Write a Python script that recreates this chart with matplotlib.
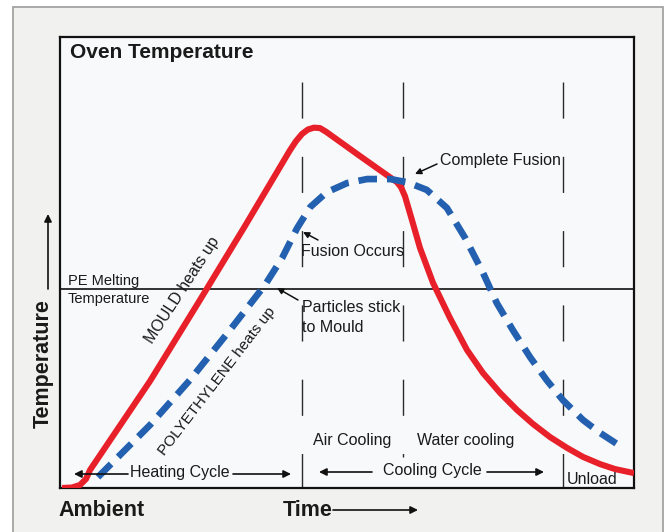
"""
Rotational moulding cycle: oven temperature vs time
"""

import matplotlib.pyplot as plt
from matplotlib.patches import Rectangle, FancyArrowPatch

# ---------- Data (time and temperature, 0-100 scale) ----------

mould_time = [0.35, 2.09, 3.48, 4.53, 5.23, 15.68, 24.39, 32.23, 40.07,
              41.11, 42.16, 43.21, 44.25, 45.30, 46.34, 52.26, 58.71, 59.41,
              60.10, 61.32, 62.72, 64.98, 67.94, 70.91, 73.69, 76.66, 79.62,
              82.40, 85.37, 88.33, 91.11, 94.08, 96.69, 100.0]
mould_temp = [0.0, 0.11, 0.67, 2.0, 3.99, 23.7, 41.7, 58.1, 74.9,
              76.9, 78.5, 79.5, 79.9, 79.8, 79.0, 73.6, 67.8, 66.7,
              64.7, 59.4, 53.2, 45.5, 37.7, 30.6, 25.5, 21.1, 17.3,
              14.2, 11.3, 8.9, 6.9, 5.3, 4.2, 3.3]

pe_time = [6.6, 15.7, 22.6, 29.6, 35.7, 38.7, 41.3, 43.6, 46.5, 50.0, 53.5,
           57.5, 60.5, 63.9, 67.4, 70.6, 73.7, 76.1, 78.9, 81.9, 84.8, 87.6,
           91.1, 94.1, 97.6]
pe_temp = [2.4, 14.0, 23.9, 35.0, 45.0, 51.0, 57.6, 62.3, 65.6, 67.6, 68.5,
           68.5, 67.8, 66.1, 62.1, 55.4, 47.7, 41.0, 35.0, 29.0, 23.9, 19.5,
           15.1, 12.2, 9.3]

melt_temp = 44.1                     # PE melting temperature
phase_times = [42.2, 59.8, 87.6]     # end of heating / air cooling / cooling
phase_bottoms = [0.0, 6.9, 0.0]
phase_top = 90.0

W, H = 669, 532
FONT = ['Liberation Sans', 'DejaVu Sans']


def fx(x):
    return x / W


def fy(y):
    return 1 - y / H


def label(x, y, s, size=11.5, weight='normal', ha='left', va='center', rot=0):
    fig.text(fx(x), fy(y), s, fontsize=size, fontweight=weight, ha=ha,
             va=va, rotation=rot, rotation_mode='anchor', family=FONT,
             color='#1a1a1a', zorder=5)


def arrow(x0, y0, x1, y1, lw=1.2, scale=11):
    fig.add_artist(FancyArrowPatch(
        (fx(x0), fy(y0)), (fx(x1), fy(y1)), transform=fig.transFigure,
        arrowstyle='-|>', color='#111111', lw=lw, mutation_scale=scale,
        shrinkA=0, shrinkB=0, zorder=5))


# ---------- Figure and frame ----------
fig = plt.figure(figsize=(W / 100, H / 100), dpi=100)
fig.patch.set_facecolor('white')
fig.patches.append(Rectangle((fx(13), -0.05), fx(663) - fx(13), fy(7) + 0.05,
                             transform=fig.transFigure, facecolor='#f1f1ef',
                             edgecolor='#9c9c9c', lw=1.2, zorder=-5))

ax = fig.add_axes([fx(60), fy(488), fx(634) - fx(60), fy(37) - fy(488)])
ax.set_facecolor('#f8f9fa')
ax.set_xlim(0, 100)
ax.set_ylim(0, 100)
ax.set_xticks([])
ax.set_yticks([])
for sp in ax.spines.values():
    sp.set_linewidth(1.6)
    sp.set_color('#111111')

# Phase boundaries and melting line
for t, b in zip(phase_times, phase_bottoms):
    ax.plot([t, t], [phase_top, b], color='#2a2a2a', lw=1.0,
            dashes=(26, 27.5), zorder=1)
ax.axhline(melt_temp, color='#111111', lw=1.2, zorder=1)

# Curves
ax.plot(mould_time, mould_temp, color='#e8202a', lw=4.4,
        solid_joinstyle='round', solid_capstyle='butt', zorder=3)
ax.plot(pe_time, pe_temp, color='#2361b0', lw=4.8, dashes=(2.8, 1.5),
        dash_capstyle='butt', zorder=4)

# ---------- Text ----------
label(70, 53, 'Oven Temperature', size=15, weight='bold')
label(58, 511, 'Ambient', size=15.5, weight='bold')
label(283, 510, 'Time', size=15.5, weight='bold')
arrow(333, 510, 418, 510)
label(43, 428, 'Temperature', size=15.5, weight='bold', rot=90)
arrow(48, 289, 48, 214)

label(68, 281, 'PE Melting', size=10.5)
label(68, 299, 'Temperature', size=10.5)

label(149, 342, 'MOULD heats up', size=11.5, rot=57)
label(161, 454, 'POLYETHYLENE heats up', size=11, rot=52.5)

label(301, 252, 'Fusion Occurs')
arrow(318, 240, 303, 232, lw=1.1, scale=9)
label(440, 160, 'Complete Fusion')
arrow(437, 164, 415, 174, lw=1.1, scale=9)
label(302, 307, 'Particles stick')
label(302, 327, 'to Mould')
arrow(298, 300, 277, 288, lw=1.1, scale=9)

label(313, 441, 'Air Cooling')
label(417, 441, 'Water cooling')
label(130, 473, 'Heating Cycle')
arrow(128, 474, 74, 474)
arrow(233, 474, 291, 474)
label(383, 471, 'Cooling Cycle')
arrow(372, 472, 319, 472)
arrow(487, 472, 544, 472)
label(567, 479, 'Unload')

fig.savefig('out.png', dpi=100, facecolor=fig.get_facecolor())
